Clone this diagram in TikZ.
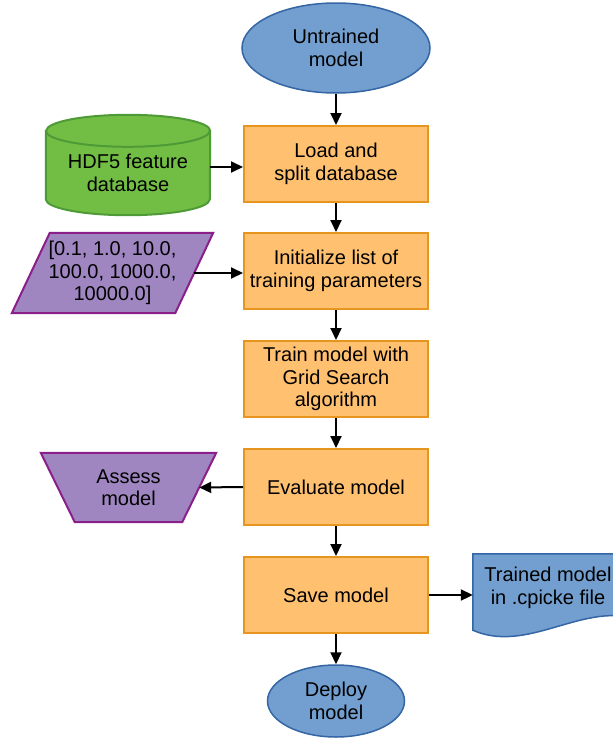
\documentclass[tikz,border=0pt]{standalone}
\usepackage{fontspec}
\setmainfont{Liberation Sans}
\usetikzlibrary{shapes.geometric,arrows.meta,backgrounds}
\definecolor{bluefill}{HTML}{729FCF}
\definecolor{blueline}{HTML}{3465A4}
\definecolor{orangefill}{HTML}{FFC070}
\definecolor{orangeline}{HTML}{E6951F}
\definecolor{greenfill}{HTML}{72BE45}
\definecolor{greenline}{HTML}{4E9A36}
\definecolor{purplefill}{HTML}{9F86C1}
\definecolor{purpleline}{HTML}{8A1F8A}
\begin{document}
\begin{tikzpicture}[x=1pt, y=1pt,
    font=\fontsize{20}{22.5}\selectfont,
    terminal/.style ={ellipse, draw=blueline, fill=bluefill, line width=1.5pt, align=center, inner sep=0pt},
    process/.style ={rectangle, draw=orangeline, fill=orangefill, line width=2pt,
                     minimum width=184pt, minimum height=76pt, align=center},
    plain/.style ={align=center, inner sep=0pt},
    flow/.style ={line width=2pt, -{Triangle[length=12pt, width=11pt]}}]
   \useasboundingbox (0,0) rectangle (613,-739);

   \node[terminal, minimum width=188pt, minimum height=90pt] (untrained) at (336,-48) {Untrained\\model};
   \node[process] (load)  at (336,-164) {Load and\\split database};
   \node[process] (init)  at (336,-271) {Initialize list of\\training parameters};
   \node[process] (train) at (336,-379) {Train model with\\Grid Search\\algorithm};
   \node[process] (eval)  at (336,-487) {Evaluate model};
   \node[process] (save)  at (336,-595) {Save model};
   \node[terminal, minimum width=137pt, minimum height=72pt] (deploy) at (336,-701) {Deploy\\model};

   \node[plain, minimum width=164pt, minimum height=84pt] (hdf)    at (128,-173)     {HDF5 feature\\database};
   \node[plain, minimum width=163pt, minimum height=80pt] (params) at (112.5,-273)   {[0.1, 1.0, 10.0,\\100.0, 1000.0,\\10000.0]};
   \node[plain, minimum width=141pt, minimum height=69pt] (assess) at (128.5,-487.5) {Assess\\model};
   \node[plain, minimum width=150pt, minimum height=68pt] (doc)    at (548,-588)     {Trained model\\in .cpicke file};

   % shapes behind the side nodes
   \begin{pgfonlayer}{background}
   \draw[fill=greenfill, draw=greenline, line width=2pt]
     (hdf.north west) -- ([yshift=16pt]hdf.south west)
     arc[start angle=180, end angle=360, x radius=82pt, y radius=16pt]
     -- (hdf.north east)
     arc[start angle=0, end angle=180, x radius=82pt, y radius=16pt] -- cycle;
   \draw[greenline, line width=2pt] (hdf.north west)
     arc[start angle=180, end angle=360, x radius=82pt, y radius=16pt];
   \draw[fill=purplefill, draw=purpleline, line width=2pt]
     ([xshift=19pt]params.north west) -- ([xshift=19pt]params.north east)
     -- ([xshift=-19pt]params.south east) -- ([xshift=-19pt]params.south west) -- cycle;
   \draw[fill=purplefill, draw=purpleline, line width=2pt]
     ([xshift=-17pt]assess.north west) -- ([xshift=17pt]assess.north east)
     -- ([xshift=-17pt]assess.south east) -- ([xshift=17pt]assess.south west) -- cycle;
   \draw[fill=bluefill, draw=blueline, line width=1.5pt]
     (doc.north west) -- ([yshift=-8pt]doc.south west)
     .. controls +(50,-22) and +(-50,6) .. ([yshift=6pt]doc.south east)
     -- (doc.north east) -- cycle;
   \end{pgfonlayer}

   \draw[flow] (untrained) to (load);
   \draw[flow] (load) to (init);
   \draw[flow] (init) to (train);
   \draw[flow] (train) to (eval);
   \draw[flow] (eval) to (save);
   \draw[flow] (save) to (deploy);
   \draw[flow] ([yshift=6pt]hdf.east) to ([yshift=-3pt]load.west);
   \draw[flow] (params.east) to (params.east -| init.west);
   \draw[flow] (eval.west) to (assess.east);
   \draw[flow] (save.east) to (save.east -| doc.west);

 \end{tikzpicture}
\end{document}
